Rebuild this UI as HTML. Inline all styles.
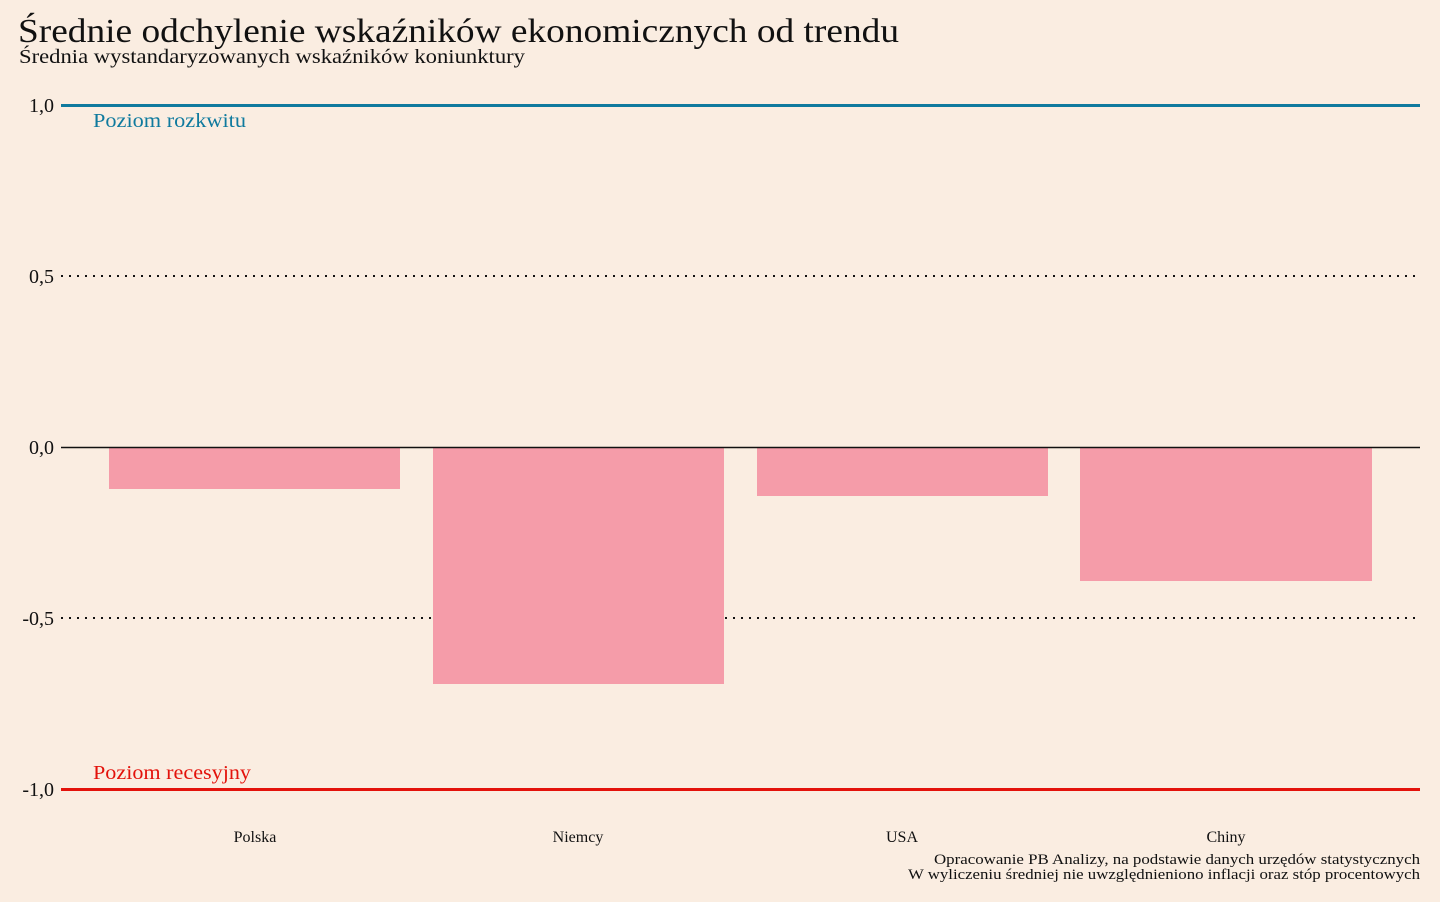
<!DOCTYPE html>
<html><head><meta charset="utf-8"><style>
body{margin:0;background:#faede1;}
svg{display:block;font-family:"Liberation Serif","DejaVu Serif",serif;}
</style></head><body>
<svg width="1440" height="902" viewBox="0 0 1440 902" xmlns="http://www.w3.org/2000/svg">
<rect width="1440" height="902" fill="#faede1"/>
<text x="18" y="42" font-size="34" fill="#111" textLength="881" lengthAdjust="spacingAndGlyphs">Średnie odchylenie wskaźników ekonomicznych od trendu</text>
<text x="19" y="63" font-size="20" fill="#111" textLength="506" lengthAdjust="spacingAndGlyphs">Średnia wystandaryzowanych wskaźników koniunktury</text>
<g font-size="20" fill="#111" text-anchor="end">
<text x="54" y="112">1,0</text>
<text x="54" y="283">0,5</text>
<text x="54" y="454">0,0</text>
<text x="54" y="625">-0,5</text>
<text x="54" y="796">-1,0</text>
</g>
<line x1="61" y1="276" x2="1420" y2="276" stroke="#111" stroke-width="2" stroke-dasharray="2,6"/>
<line x1="61" y1="618" x2="1420" y2="618" stroke="#111" stroke-width="2" stroke-dasharray="2,6"/>
<g fill="#f59ca9">
<rect x="109" y="447" width="291" height="42"/>
<rect x="433" y="447" width="291" height="237"/>
<rect x="757" y="447" width="291" height="49"/>
<rect x="1080" y="447" width="292" height="134"/>
</g>
<line x1="61" y1="447.5" x2="1420" y2="447.5" stroke="#111" stroke-width="1.5"/>
<line x1="61" y1="105.5" x2="1420" y2="105.5" stroke="#0f7a9e" stroke-width="3"/>
<line x1="61" y1="789.5" x2="1420" y2="789.5" stroke="#e3120b" stroke-width="3"/>
<text x="93" y="127" font-size="20" fill="#0f7a9e" textLength="153" lengthAdjust="spacingAndGlyphs">Poziom rozkwitu</text>
<text x="93" y="779" font-size="20" fill="#e3120b" textLength="158" lengthAdjust="spacingAndGlyphs">Poziom recesyjny</text>
<g font-size="16" fill="#111" text-anchor="middle">
<text x="255" y="842">Polska</text>
<text x="578" y="842">Niemcy</text>
<text x="902" y="842">USA</text>
<text x="1226" y="842">Chiny</text>
</g>
<g font-size="15" fill="#111">
<text x="934" y="864" textLength="486" lengthAdjust="spacingAndGlyphs">Opracowanie PB Analizy, na podstawie danych urzędów statystycznych</text>
<text x="908" y="879" textLength="512" lengthAdjust="spacingAndGlyphs">W wyliczeniu średniej nie uwzględnieniono inflacji oraz stóp procentowych</text>
</g>
</svg>
</body></html>
